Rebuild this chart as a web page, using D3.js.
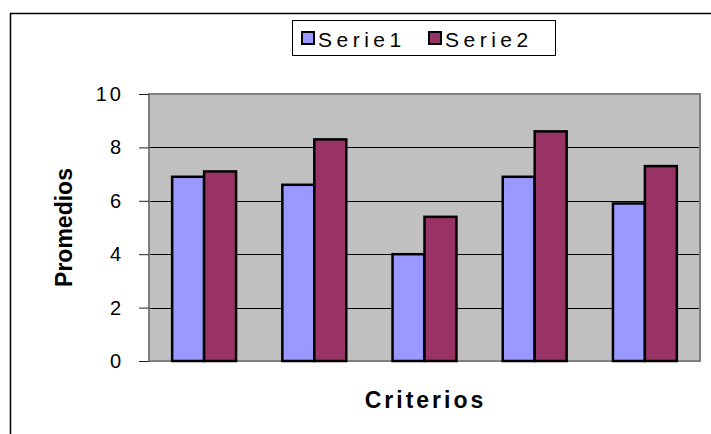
<!DOCTYPE html>
<html>
<head>
<meta charset="utf-8">
<script src="https://cdn.jsdelivr.net/npm/d3@7"></script>
<style>
  html, body { margin: 0; padding: 0; background: #fff; }
  svg { display: block; font-family: "Liberation Sans", Arial, sans-serif; }
</style>
</head>
<body>
<svg id="chart" width="711" height="434"></svg>
<script>
// Promedios por criterio, dos series
const categories = ["1", "2", "3", "4", "5"];
const seriesNames = ["Serie1", "Serie2"];
const serie1 = [6.9, 6.6, 4.0, 6.9, 5.9];
const serie2 = [7.1, 8.3, 5.4, 8.6, 7.3];
const yTicks = [0, 2, 4, 6, 8, 10];
const seriesColors = ["#9999FF", "#993366"];

const svg = d3.select("#chart");

// Outer chart frame
svg.append("rect")
  .attr("x", 10.5).attr("y", 13.5)
  .attr("width", 740).attr("height", 460)
  .attr("fill", "none").attr("stroke", "#000").attr("stroke-width", 1.5);

const plot = { left: 149, top: 94, right: 700, bottom: 361 };

const x = d3.scaleBand()
  .domain(categories)
  .range([plot.left, plot.right])
  .paddingInner(0.42)
  .paddingOuter(0.21);

const xs = d3.scaleBand()
  .domain(seriesNames)
  .range([0, x.bandwidth()]);

const y = d3.scaleLinear()
  .domain([0, 10])
  .range([plot.bottom, plot.top]);

// Plot area background
svg.append("rect")
  .attr("x", plot.left).attr("y", plot.top)
  .attr("width", plot.right - plot.left).attr("height", plot.bottom - plot.top)
  .attr("fill", "#C0C0C0");

// Horizontal gridlines
svg.append("g")
  .selectAll("line")
  .data(yTicks.filter(t => t > 0 && t < 10))
  .join("line")
  .attr("x1", plot.left).attr("x2", plot.right)
  .attr("y1", d => Math.round(y(d)) + 0.5).attr("y2", d => Math.round(y(d)) + 0.5)
  .attr("stroke", "#000").attr("stroke-width", 1);

// Plot border
svg.append("rect")
  .attr("x", plot.left).attr("y", plot.top)
  .attr("width", plot.right - plot.left).attr("height", plot.bottom - plot.top)
  .attr("fill", "none").attr("stroke", "#808080").attr("stroke-width", 2);

// Y axis
const yAxis = d3.axisLeft(y).tickValues(yTicks).tickSize(10).tickPadding(15);
const gy = svg.append("g")
  .attr("transform", `translate(${plot.left},0)`)
  .call(yAxis);
gy.select(".domain").remove();
gy.selectAll(".tick line").attr("stroke", "#222").attr("stroke-width", 1);
gy.selectAll(".tick text")
  .attr("font-size", 20)
  .attr("fill", "#000")
  .attr("letter-spacing", 3)
  .attr("font-family", "Liberation Sans, Arial, sans-serif");

// Bars
const rows = categories.map((c, i) => ({ cat: c, values: [serie1[i], serie2[i]] }));
svg.append("g")
  .selectAll("g")
  .data(rows)
  .join("g")
  .attr("transform", d => `translate(${x(d.cat)},0)`)
  .selectAll("rect")
  .data(d => d.values.map((v, j) => ({ name: seriesNames[j], v, j })))
  .join("rect")
  .attr("x", d => xs(d.name))
  .attr("y", d => y(d.v))
  .attr("width", xs.bandwidth())
  .attr("height", d => y(0) - y(d.v))
  .attr("fill", d => seriesColors[d.j])
  .attr("stroke", "#000")
  .attr("stroke-width", 2.5);

// Axis titles
svg.append("text")
  .attr("transform", `translate(72,${(plot.top + plot.bottom) / 2}) rotate(-90)`)
  .attr("text-anchor", "middle")
  .attr("font-size", 23)
  .attr("font-weight", "bold")
  .attr("fill", "#000")
  .text("Promedios");

svg.append("text")
  .attr("x", (plot.left + plot.right) / 2 + 1)
  .attr("y", 408)
  .attr("text-anchor", "middle")
  .attr("font-size", 23)
  .attr("font-weight", "bold")
  .attr("letter-spacing", 3)
  .attr("fill", "#000")
  .text("Criterios");

// Legend
const legend = svg.append("g");
legend.append("rect")
  .attr("x", 292.5).attr("y", 20.5)
  .attr("width", 263).attr("height", 35)
  .attr("fill", "#fff").attr("stroke", "#000").attr("stroke-width", 1);
const items = legend.selectAll("g.item")
  .data(seriesNames)
  .join("g")
  .attr("class", "item")
  .attr("transform", (d, i) => `translate(${301 + i * 127},0)`);
items.append("rect")
  .attr("x", 1).attr("y", 32)
  .attr("width", 12).attr("height", 12)
  .attr("fill", (d, i) => seriesColors[i])
  .attr("stroke", "#000").attr("stroke-width", 2);
items.append("text")
  .attr("x", 17).attr("y", 46.5)
  .attr("font-size", 21)
  .attr("letter-spacing", 4.5)
  .attr("fill", "#000")
  .text(d => d);
</script>
</body>
</html>
